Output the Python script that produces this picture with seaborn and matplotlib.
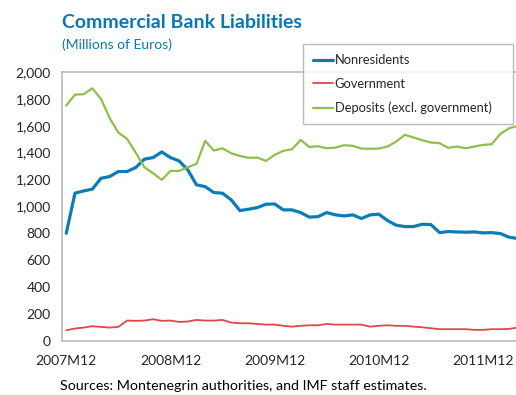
import seaborn as sns
import matplotlib.pyplot as plt
import pandas as pd

# monthly observations, 2007M12 .. 2012M4
months = [f"{2007 + (m + 11) // 12}M{(m + 11) % 12 + 1}" for m in range(53)]
tick_labels = ["2007M12", "2008M12", "2009M12", "2010M12", "2011M12"]

nonresidents = [800, 1098, 1115, 1128, 1209, 1222, 1259, 1259, 1289, 1351,
                1363, 1405, 1363, 1338, 1271, 1160, 1147, 1103, 1098, 1048,
                969, 979, 991, 1016, 1018, 974, 974, 954, 920, 924,
                954, 937, 929, 937, 910, 937, 942, 895, 860, 850,
                850, 867, 865, 805, 813, 810, 808, 810, 803, 805,
                798, 771, 761]
government = [79, 92, 99, 109, 104, 99, 104, 151, 149, 151,
              161, 149, 151, 141, 144, 156, 151, 151, 156, 136,
              131, 131, 126, 121, 121, 112, 106, 112, 116, 116,
              126, 121, 121, 121, 121, 106, 112, 116, 112, 112,
              106, 101, 94, 87, 87, 87, 87, 82, 82, 87,
              87, 89, 99]
deposits = [1750, 1831, 1834, 1878, 1799, 1656, 1549, 1502, 1400, 1291,
            1247, 1197, 1264, 1264, 1291, 1316, 1487, 1415, 1432, 1395,
            1375, 1361, 1363, 1338, 1383, 1413, 1425, 1494, 1442, 1447,
            1432, 1437, 1455, 1450, 1430, 1428, 1430, 1445, 1482, 1532,
            1512, 1492, 1475, 1470, 1435, 1445, 1432, 1445, 1457, 1462,
            1539, 1581, 1598]

series = ["Nonresidents", "Government", "Deposits (excl. government)"]
df = pd.DataFrame({
    "idx": list(range(len(months))) * 3,
    "value": nonresidents + government + deposits,
    "series": [series[0]] * 53 + [series[1]] * 53 + [series[2]] * 53,
})

sns.set_theme(style="white")
plt.rcParams['font.family'] = ['Lato', 'DejaVu Sans']

fig = plt.figure(figsize=(5.16, 3.95), dpi=100)
ax = fig.add_axes([0.120, 0.137, 0.880, 0.681])

palette = {series[0]: "#0A7DB4", series[1]: "#E0474A", series[2]: "#8DC04B"}
sns.lineplot(data=df, x="idx", y="value", hue="series", palette=palette,
             ax=ax, legend=False)
widths = [2.3, 1.3, 1.6]
for line, w in zip(ax.get_lines(), widths):
    line.set_linewidth(w)

ax.set_xlim(-0.5, 51.8)
ax.set_ylim(0, 2000)
ax.set_yticks(range(0, 2001, 200))
ax.set_yticklabels([f"{v:,}" for v in range(0, 2001, 200)])
ax.set_xticks([0, 12, 24, 36, 48])
ax.set_xticklabels(tick_labels)
ax.set_xticks([11.5, 23.5, 35.5, 47.5], minor=True)
ax.tick_params(axis="x", which="major", length=0, pad=10, labelsize=10)
ax.tick_params(axis="x", which="minor", length=4, direction="in", color="#BBBBBB", width=1)
ax.tick_params(axis="y", length=4, direction="in", color="#BBBBBB", width=1, labelsize=10, pad=8)
ax.set_xlabel("")
ax.set_ylabel("")
for s in ["left", "bottom", "top"]:
    ax.spines[s].set_color("#BBBBBB")
    ax.spines[s].set_linewidth(1.2)
ax.spines["right"].set_visible(False)

handles = [plt.Line2D([], [], color=palette[s], lw=w) for s, w in zip(series, widths)]
leg = ax.legend(handles, series, loc="upper left", bbox_to_anchor=(0.531, 0, 0.4626, 1.104),
                mode="expand", frameon=True, fontsize=9.3, handlelength=1.5,
                handletextpad=0.15, labelspacing=0.9, borderpad=0.8, borderaxespad=0,
                fancybox=False, shadow=False)
leg.get_frame().set_edgecolor("#AAAAAA")
leg.get_frame().set_linewidth(1)

fig.text(0.120, 0.928, "Commercial Bank Liabilities", fontsize=14, fontweight="bold",
         color="#0A78B0", ha="left", va="baseline")
fig.text(0.120, 0.877, "(Millions of Euros)", fontsize=10, color="#0A78B0",
         ha="left", va="baseline")
fig.text(0.116, 0.012, "Sources: Montenegrin authorities, and IMF staff estimates.",
         fontsize=10.3, color="black", ha="left", va="baseline")

plt.savefig("out.png", dpi=100)
